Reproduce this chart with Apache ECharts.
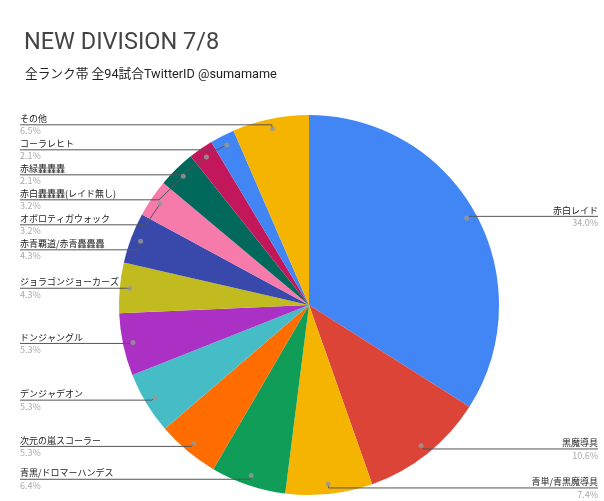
<!DOCTYPE html>
<html>
<head>
<meta charset="utf-8">
<script src="https://cdn.jsdelivr.net/npm/echarts@6/dist/echarts.min.js"></script>
<style>
  html, body { margin: 0; padding: 0; background: #fff; }
  #chart { width: 604px; height: 501px; }
</style>
</head>
<body>
<div id="chart"></div>
<script>
// デッキ名と割合（％）
const decks = [
  '赤白レイド', '黒魔導具', '青単/青黒魔導具', '青黒/ドロマーハンデス',
  '次元の嵐スコーラー', 'デンジャデオン', 'ドンジャングル', 'ジョラゴンジョーカーズ',
  '赤青覇道/赤青轟轟轟', 'オボロティガウォック', '赤白轟轟轟(レイド無し)', '赤緑轟轟轟',
  'コーラレヒト', 'その他'
];
const shares = [34.0, 10.6, 7.4, 6.4, 5.3, 5.3, 5.3, 4.3, 4.3, 3.2, 3.2, 2.1, 2.1, 6.5];
const colors = [
  '#4285f4', '#db4437', '#f4b400', '#0f9d58', '#ff6d01', '#46bdc6', '#ab30c4',
  '#c2bb1f', '#3949ab', '#f67bab', '#00695c', '#c2185b', '#4285f4', '#f4b400'
];

const chart = echarts.init(document.getElementById('chart'));
const W = 604;
const CENTER = [309, 305];
const R = 190;
const DOT_R = 180;

const pieData = decks.map((name, i) => ({
  name, value: shares[i], itemStyle: { color: colors[i] }
}));

// 点の位置（各スライスの中央角度）
let acc = 0;
const dots = shares.map((v) => {
  const mid = acc + v / 2;
  acc += v;
  return [DOT_R, mid];
});

chart.setOption({
  animation: false,
  title: [
    {
      text: 'NEW DIVISION 7/8',
      left: 19, top: 26,
      textStyle: { fontFamily: 'Roboto', fontSize: 23.5, fontWeight: 'normal', color: '#444' }
    },
    {
      text: '全ランク帯 全94試合TwitterID @sumamame',
      left: 20, top: 63,
      textStyle: { fontFamily: 'Roboto, "Noto Sans CJK JP"', fontSize: 12.7, fontWeight: 'normal', color: '#222' }
    }
  ],
  polar: { center: CENTER, radius: R },
  angleAxis: { type: 'value', min: 0, max: 100, startAngle: 90, clockwise: true, show: false },
  radiusAxis: { type: 'value', min: 0, max: R, show: false },
  series: [
    {
      type: 'pie',
      center: CENTER,
      radius: R,
      startAngle: 90,
      silent: true,
      label: { show: false },
      labelLine: { show: false },
      data: pieData
    },
    {
      type: 'pie',
      center: CENTER,
      radius: DOT_R,
      startAngle: 90,
      silent: true,
      z: 3,
      itemStyle: { color: 'rgba(0,0,0,0)' },
      label: {
        alignTo: 'edge',
        edgeDistance: 20,
        minMargin: 0,
        lineHeight: 12.5,
        fontFamily: '"Noto Sans CJK JP", sans-serif',
        formatter: (p) => '{name|' + p.name + '}\n{per|' + p.value.toFixed(1) + '%}',
        rich: {
          name: { fontSize: 9, color: '#222', lineHeight: 12.5 },
          per: { fontSize: 9, color: '#aaa', lineHeight: 12.5 }
        }
      },
      labelLine: { length: 4, length2: 0, lineStyle: { color: '#555', width: 1 } },
      labelLayout: (params) => {
        const isLeft = params.labelRect.x < W / 2;
        const pts = params.labelLinePoints;
        if (isLeft) {
          pts[2][0] = 20;
          return { x: 20, align: 'left', labelLinePoints: pts };
        }
        pts[2][0] = 598;
        return { x: 598, align: 'right', labelLinePoints: pts };
      },
      data: decks.map((name, i) => ({ name, value: shares[i] }))
    },
    {
      type: 'scatter',
      coordinateSystem: 'polar',
      symbolSize: 5,
      z: 4,
      silent: true,
      itemStyle: { color: '#999' },
      data: dots
    }
  ]
});
</script>
</body>
</html>
